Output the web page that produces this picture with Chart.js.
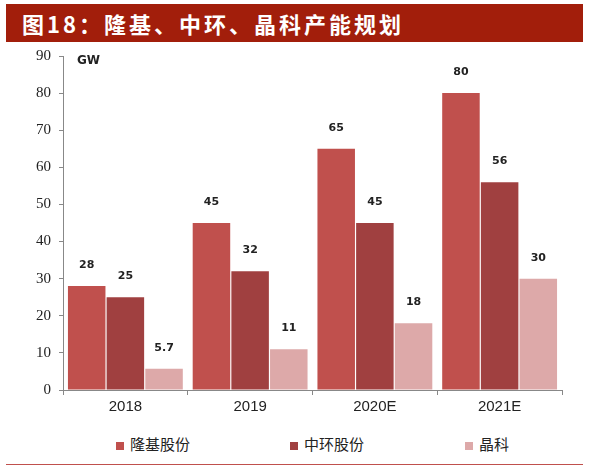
<!DOCTYPE html>
<html><head><meta charset="utf-8">
<script src="https://cdn.jsdelivr.net/npm/chart.js@4"></script>
<style>
body{margin:0;background:#fff;font-family:"Noto Sans CJK SC",sans-serif;}
#title{position:absolute;left:6px;top:4px;width:577px;height:38px;background:#A21E0B;color:#fff;font-size:22px;font-weight:bold;line-height:38px;padding-left:16px;box-sizing:border-box;letter-spacing:3px;}
#wrap{position:absolute;left:0;top:39px;width:589px;height:380px;}
#legend{position:absolute;top:433px;left:0;width:589px;font-size:15px;color:#222;}
#legend span{position:absolute;white-space:nowrap;}
#legend i{display:inline-block;width:8px;height:8px;margin-right:6px;vertical-align:middle;}
#line{position:absolute;left:6px;top:464px;width:577px;height:1px;background:#C0504D;}
</style></head><body>
<div id="title">图18：隆基、中环、晶科产能规划</div>
<div id="wrap"><canvas id="c"></canvas></div>
<div id="legend">
<span style="left:116px"><i style="background:#C0504D"></i>隆基股份</span>
<span style="left:290px"><i style="background:#A04040"></i>中环股份</span>
<span style="left:465px"><i style="background:#DDA9A9"></i>晶科</span>
</div>
<div id="line"></div>
<script>
// --- data ---
const categories = ['2018', '2019', '2020E', '2021E'];
const longi = [28, 45, 65, 80];
const zhonghuan = [25, 32, 45, 56];
const jinko = [5.7, 11, 18, 30];
const seriesNames = ['隆基股份', '中环股份', '晶科'];
const colors = ['#C0504D', '#A04040', '#DDA9A9'];

const valueLabels = {
    id: 'valueLabels',
    afterDatasetsDraw(chart) {
        const ctx = chart.ctx;
        ctx.save();
        ctx.font = 'bold 11px "DejaVu Sans", sans-serif';
        ctx.fillStyle = '#222';
        ctx.textAlign = 'center';
        chart.data.datasets.forEach((ds, i) => {
            chart.getDatasetMeta(i).data.forEach((bar, j) => {
                ctx.fillText(ds.data[j], bar.x, bar.y - 18);
            });
        });
        // unit label
        ctx.font = 'bold 12px "DejaVu Sans", sans-serif';
        ctx.textAlign = 'left';
        ctx.fillText('GW', chart.chartArea.left + 14, chart.chartArea.top + 8);
        ctx.restore();
    }
};

new Chart(document.getElementById('c'), {
    type: 'bar',
    data: {
        labels: categories,
        datasets: [longi, zhonghuan, jinko].map((d, i) => ({
            label: seriesNames[i],
            data: d,
            backgroundColor: colors[i],
            categoryPercentage: 0.93,
            barPercentage: 0.97,
        })),
    },
    options: {
        responsive: true,
        maintainAspectRatio: false,
        animation: false,
        layout: { padding: { top: 0, right: 27, left: 28 } },
        scales: {
            x: {
                grid: { display: true, drawOnChartArea: false, offset: true, color: '#888', tickLength: 5 },
                border: { color: '#888' },
                ticks: { color: '#222', font: { size: 15, family: 'Liberation Sans' } },
            },
            y: {
                min: 0, max: 90,
                ticks: { stepSize: 10, color: '#222', font: { size: 15, family: 'Liberation Sans Narrow' }, padding: 8 },
                grid: { drawOnChartArea: false, color: '#888', tickLength: 4 },
                border: { color: '#888' },
            },
        },
        plugins: { legend: { display: false }, tooltip: { enabled: false } },
    },
    plugins: [valueLabels],
});
</script>
</body></html>
